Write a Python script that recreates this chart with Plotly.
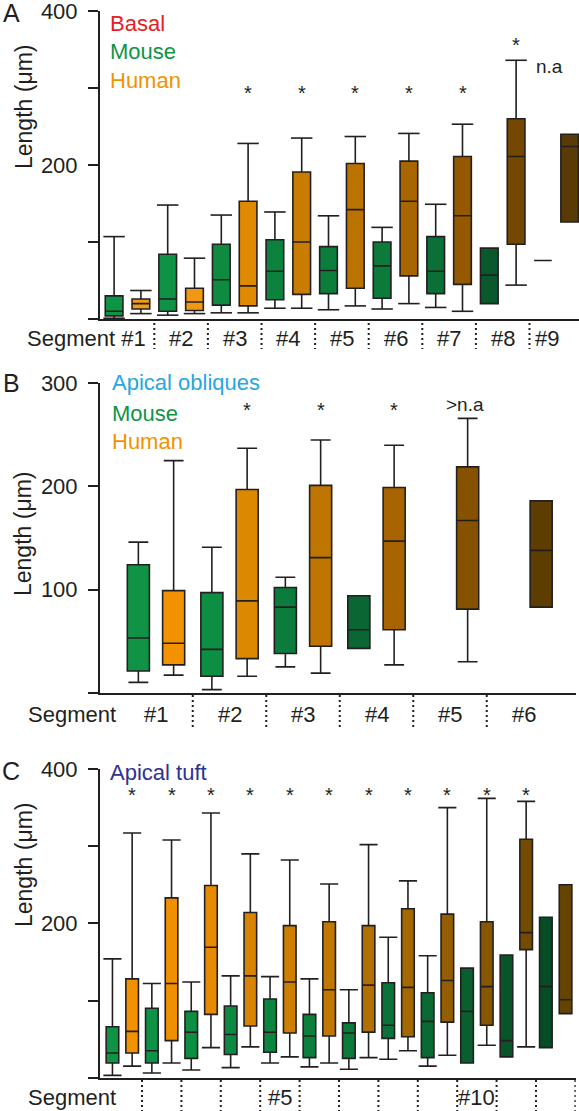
import plotly.graph_objects as go

# ---------------- data (µm) ----------------
# Panel A: Basal
A_segments = [1, 2, 3, 4, 5, 6, 7, 8, 9]
A_mouse_lo = [1, 5, 8, 14, 12, 13, 15, None, None]
A_mouse_q1 = [4, 10, 18, 25, 33, 27, 33, 20, 76]
A_mouse_med = [10, 26, 51, 62, 63, 69, 62, 57, 76]
A_mouse_q3 = [30, 84, 97, 103, 94, 100, 107, 92, 76]
A_mouse_hi = [107, 148, 135, 139, 134, 119, 149, None, None]
A_human_lo = [7, 7, 8, 14, 17, 20, 10, 44, None]
A_human_q1 = [13, 11, 17, 32, 40, 56, 45, 97, 126]
A_human_med = [20, 22, 43, 100, 142, 153, 134, 211, 224]
A_human_q3 = [26, 40, 153, 191, 202, 205, 211, 260, 240]
A_human_hi = [37, 79, 228, 235, 237, 241, 253, 336, None]
A_star_segments = [3, 4, 5, 6, 7, 8]
A_star_values = [300, 300, 300, 300, 300, 362]
A_na_segment, A_na_value = 9, 328

# Panel B: Apical obliques
B_segments = [1, 2, 3, 4, 5, 6]
B_mouse_segments = [1, 2, 3, 4]
B_mouse_lo = [10, 3, 25, None]
B_mouse_q1 = [21, 16, 38, 43]
B_mouse_med = [53, 42, 83, 61]
B_mouse_q3 = [124, 97, 102, 94]
B_mouse_hi = [146, 141, 112, None]
B_human_lo = [17, 16, 19, 27, 30, None]
B_human_q1 = [27, 33, 45, 61, 81, 83]
B_human_med = [48, 89, 131, 147, 167, 138]
B_human_q3 = [99, 197, 201, 199, 219, 186]
B_human_hi = [225, 237, 245, 240, 266, None]
B_star_segments = [2, 3, 4]
B_star_values = [279, 279, 279]
B_na_segment, B_na_value = 5, 279

# Panel C: Apical tuft
C_segments = list(range(1, 13))
C_mouse_lo = [3, 6, 10, 13, 19, 14, 11, 24, 15, None, None, None]
C_mouse_q1 = [19, 19, 25, 30, 33, 26, 25, 51, 26, 19, 27, 39]
C_mouse_med = [32, 35, 59, 56, 59, 54, 58, 68, 73, 86, 48, 118]
C_mouse_q3 = [66, 90, 86, 93, 102, 82, 71, 123, 110, 142, 159, 208]
C_mouse_hi = [154, 122, 124, 132, 131, 128, 114, 182, 158, None, None, None]
C_human_lo = [15, 19, 39, 40, 27, 19, 26, 35, 29, 42, 40, None]
C_human_q1 = [32, 48, 82, 67, 58, 54, 59, 53, 72, 68, 166, 83]
C_human_med = [60, 122, 169, 132, 124, 114, 120, 117, 126, 118, 188, 101]
C_human_q3 = [128, 233, 249, 214, 197, 202, 197, 219, 212, 202, 309, 250]
C_human_hi = [317, 308, 343, 290, 282, 251, 302, 255, 350, 362, 358, None]
C_star_segments = list(range(1, 12))
C_star_values = [373] * 11

# tick labels
A_tickvals = [0, 100, 200, 300, 400]
A_ticktext = ["", "", "200", "", "400"]
B_tickvals = [0, 100, 200, 300]
B_ticktext = ["", "100", "200", "300"]
C_tickvals = [0, 100, 200, 300, 400]
C_ticktext = ["", "", "200", "", "400"]

# ---------------- styles ----------------
A_mouse_colors = ["#0f9446", "#0e9245", "#0c8b41", "#0b823e", "#0c7e3c", "#0c7a3a", "#0b7036", "#0a592c", "#0a592c"]
A_human_colors = ["#f29a1a", "#f19812", "#df8a00", "#c97d00", "#bb7300", "#a86600", "#945900", "#744800", "#5a3b05"]
B_mouse_colors = ["#0f9446", "#0d8f43", "#0b7c3b", "#0a6733"]
B_human_colors = ["#f39200", "#dc8800", "#bf7600", "#a76400", "#875200", "#5e3d00"]
C_mouse_colors = ["#0f9446", "#0e9245", "#0d8f43", "#0c8a41", "#0c863f", "#0b803d",
                  "#0b7b3b", "#0b7339", "#0a6a34", "#0a5f2f", "#08552a", "#064d26"]
C_human_colors = ["#f39200", "#f08f00", "#e68b00", "#d88400", "#cc7f00", "#c07800",
                  "#b27000", "#a46800", "#945e00", "#865600", "#744c00", "#664400"]

W, H = 579, 1111
FONT = "Liberation Sans, Arial, Helvetica, sans-serif"
INK = "#231f20"
AXIS_LEFT = 100


def px_x(p):
    return p / W


def px_y(p):
    return 1 - p / H


panels = [
    dict(ax="", c1=127.5, s=53.6, top=11, bottom=319, right=579, off=0.25, bw=0.33, cw=0.40,
         mouse_seg=A_segments, mlo=A_mouse_lo, mq1=A_mouse_q1, mmed=A_mouse_med, mq3=A_mouse_q3, mhi=A_mouse_hi,
         human_seg=A_segments, hlo=A_human_lo, hq1=A_human_q1, hmed=A_human_med, hq3=A_human_q3, hhi=A_human_hi,
         mcol=A_mouse_colors, hcol=A_human_colors, tv=A_tickvals, tt=A_ticktext, ymax=400),
    dict(ax="2", c1=156.0, s=73.5, top=383.3, bottom=692.7, right=575.7, off=0.24, bw=0.30, cw=0.27,
         mouse_seg=B_mouse_segments, mlo=B_mouse_lo, mq1=B_mouse_q1, mmed=B_mouse_med, mq3=B_mouse_q3, mhi=B_mouse_hi,
         human_seg=B_segments, hlo=B_human_lo, hq1=B_human_q1, hmed=B_human_med, hq3=B_human_q3, hhi=B_human_hi,
         mcol=B_mouse_colors, hcol=B_human_colors, tv=B_tickvals, tt=B_ticktext, ymax=300),
    dict(ax="3", c1=122.3, s=39.4, top=769, bottom=1077.7, right=575.7, off=0.25, bw=0.32, cw=0.46,
         mouse_seg=C_segments, mlo=C_mouse_lo, mq1=C_mouse_q1, mmed=C_mouse_med, mq3=C_mouse_q3, mhi=C_mouse_hi,
         human_seg=C_segments, hlo=C_human_lo, hq1=C_human_q1, hmed=C_human_med, hq3=C_human_q3, hhi=C_human_hi,
         mcol=C_mouse_colors, hcol=C_human_colors, tv=C_tickvals, tt=C_ticktext, ymax=400),
]

fig = go.Figure()
layout = dict(width=W, height=H, autosize=False,
              margin=dict(l=0, r=0, t=0, b=0, autoexpand=False),
              paper_bgcolor="white", plot_bgcolor="white", boxmode="overlay", showlegend=False,
              font=dict(family=FONT, color=INK))
annotations = []
shapes = []

for p in panels:
    xa, ya = "x" + p["ax"], "y" + p["ax"]
    xr = [(AXIS_LEFT - p["c1"]) / p["s"] + 1, (p["right"] - p["c1"]) / p["s"] + 1]
    layout["xaxis" + p["ax"]] = dict(domain=[px_x(AXIS_LEFT), px_x(p["right"])], range=xr, anchor=ya,
                                     showline=True, linecolor=INK, linewidth=2, showgrid=False,
                                     zeroline=False, showticklabels=False, ticks="", automargin=False)
    layout["yaxis" + p["ax"]] = dict(domain=[px_y(p["bottom"]), px_y(p["top"])], range=[0, p["ymax"]], anchor=xa,
                                     showline=True, linecolor=INK, linewidth=2, showgrid=False, zeroline=False,
                                     ticks="outside", ticklen=10, tickwidth=2, tickcolor=INK,
                                     tickvals=p["tv"], ticktext=p["tt"], ticklabelstandoff=6, automargin=False,
                                     ticklabeloverflow="allow",
                                     tickfont=dict(size=22, family=FONT, color=INK))
    capx, capy = [], []
    groups = [
        (p["mouse_seg"], -p["off"], p["mlo"], p["mq1"], p["mmed"], p["mq3"], p["mhi"], p["mcol"]),
        (p["human_seg"], p["off"], p["hlo"], p["hq1"], p["hmed"], p["hq3"], p["hhi"], p["hcol"]),
    ]
    for segs, off, lo, q1, med, q3, hi, cols in groups:
        for i, seg in enumerate(segs):
            pos = seg + off
            fig.add_trace(go.Box(
                x=[pos], q1=[q1[i]], median=[med[i]], q3=[q3[i]],
                lowerfence=[lo[i] if lo[i] is not None else q1[i]],
                upperfence=[hi[i] if hi[i] is not None else q3[i]],
                width=p["bw"], whiskerwidth=0, fillcolor=cols[i],
                line=dict(color=INK, width=1.6), boxpoints=False,
                hoverinfo="skip", xaxis=xa, yaxis=ya))
            for v in (lo[i], hi[i]):
                if v is not None:
                    capx += [pos - p["cw"] / 2, pos + p["cw"] / 2, None]
                    capy += [v, v, None]
    fig.add_trace(go.Scatter(x=capx, y=capy, mode="lines", line=dict(color=INK, width=1.6),
                             hoverinfo="skip", xaxis=xa, yaxis=ya))

# significance markers
def star(xa, ya, seg, val, off):
    annotations.append(dict(x=seg + off, y=val, xref=xa, yref=ya, text="*", showarrow=False,
                            font=dict(size=20, color=INK), yanchor="middle", yshift=-5))

for s, v in zip(A_star_segments, A_star_values):
    star("x", "y", s, v, 0.25)
for s, v in zip(B_star_segments, B_star_values):
    star("x2", "y2", s, v, 0.24)
for s, v in zip(C_star_segments, C_star_values):
    star("x3", "y3", s, v, 0.25)
annotations.append(dict(x=A_na_segment - 0.12, y=A_na_value, xref="x", yref="y", text="n.a",
                        showarrow=False, font=dict(size=19, color=INK), yanchor="middle"))
annotations.append(dict(x=B_na_segment + 0.21, y=B_na_value, xref="x2", yref="y2", text=">n.a",
                        showarrow=False, font=dict(size=19, color=INK), yanchor="middle"))

# segment separators and labels
sep_dash = "2px,3px"
for xa, nseg, y0, y1 in [("x", 9, 323, 349), ("x2", 6, 695, 730), ("x3", 12, 1080, 1111)]:
    last = nseg if xa == "x3" else nseg - 1
    for k in range(1, last + 1):
        shapes.append(dict(type="line", xref=xa, yref="paper", x0=k + 0.5, x1=k + 0.5,
                           y0=px_y(y0), y1=px_y(y1), line=dict(color=INK, width=2, dash=sep_dash)))

def lab(text, xa, x, ypx, anchor="center", size=22, xshift=0):
    annotations.append(dict(x=x, y=px_y(ypx), xref=xa, yref="paper", text=text, showarrow=False,
                            xanchor=anchor, yanchor="middle", xshift=xshift,
                            font=dict(size=size, color=INK)))

lab("Segment #1", "x", 1.5, 338, anchor="right", xshift=-6)
for s in A_segments[1:8]:
    lab("#%d" % s, "x", s, 338)
lab("#9", "x", 9, 338, xshift=-9)
lab("Segment", "paper", px_x(72), 714)
for s in B_segments:
    lab("#%d" % s, "x2", s, 714)
lab("Segment", "paper", px_x(72), 1097)
lab("#5", "x3", 5, 1097)
lab("#10", "x3", 10, 1097)

# panel letters, y titles, legends
def ptext(text, xpx, ypx, size, color=INK, angle=0, anchor="center"):
    annotations.append(dict(x=px_x(xpx), y=px_y(ypx), xref="paper", yref="paper", text=text,
                            showarrow=False, textangle=angle, xanchor=anchor, yanchor="middle",
                            font=dict(size=size, color=color)))

ptext("A", 11, 13, 25)
ptext("B", 11, 383, 25)
ptext("C", 11, 771, 25)
ptext("Length (μm)", 24, 107, 23, angle=-90)
ptext("Length (μm)", 23, 534, 23, angle=-90)
ptext("Length (μm)", 24, 865, 23, angle=-90)

ptext("Basal", 108, 24, 22, "#e31e24", anchor="left")
ptext("Mouse", 108, 52, 22, "#0f9446", anchor="left")
ptext("Human", 108, 80, 22, "#f39200", anchor="left")
ptext("Apical obliques", 110, 382, 22, "#27a6e0", anchor="left")
ptext("Mouse", 110, 413, 22, "#0f9446", anchor="left")
ptext("Human", 110, 441, 22, "#f39200", anchor="left")
ptext("Apical tuft", 108, 772, 22, "#2e3192", anchor="left")

layout["annotations"] = annotations
layout["shapes"] = shapes
fig.update_layout(**layout)
fig.write_html("out.html", config={"displayModeBar": False},
               post_script="document.body.style.margin='0';document.body.style.overflow='hidden';")
